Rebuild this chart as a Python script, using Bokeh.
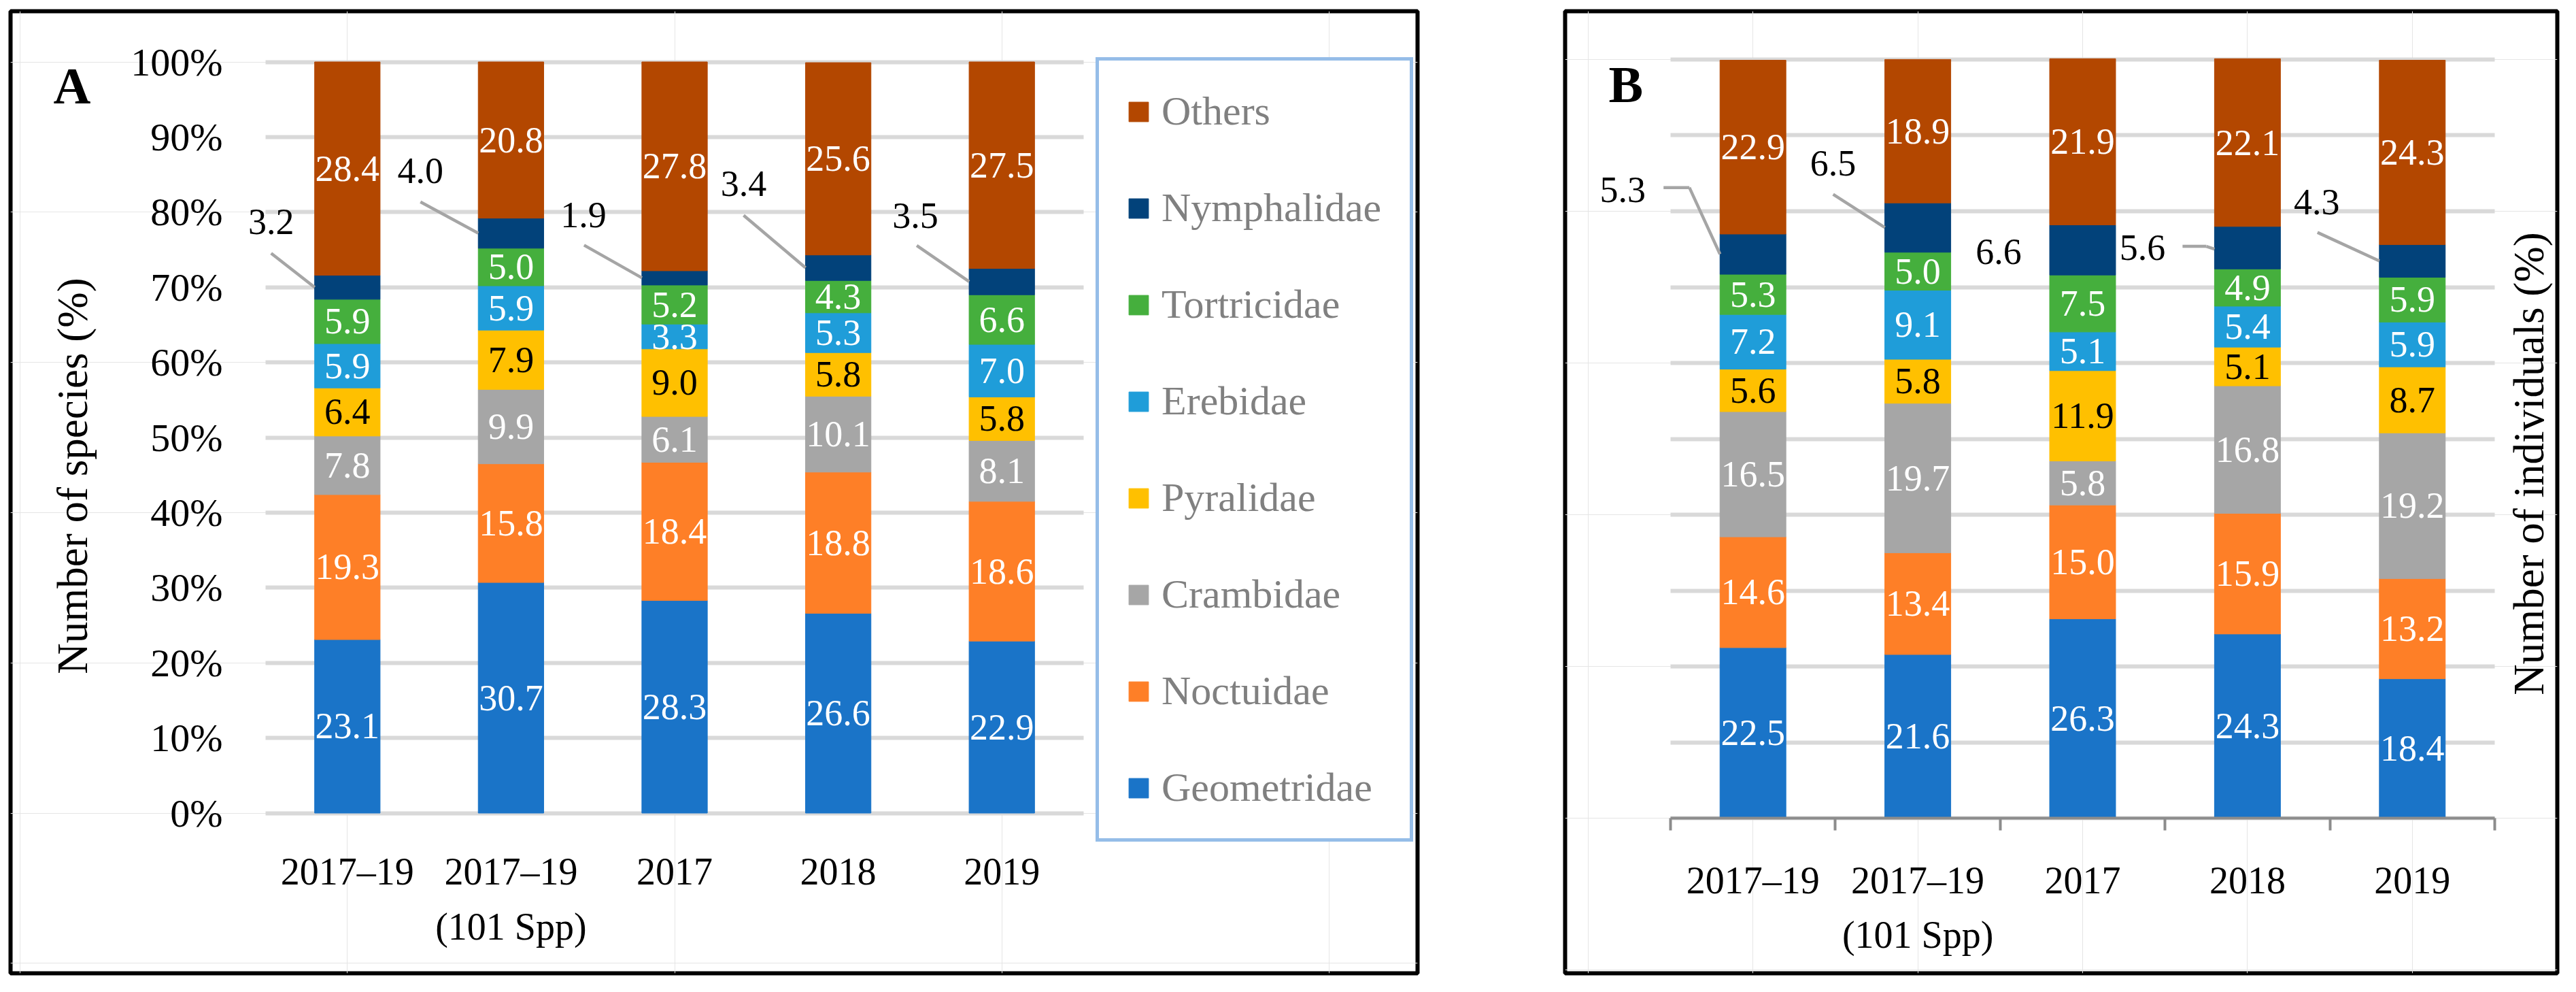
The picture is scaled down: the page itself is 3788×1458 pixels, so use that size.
import math
from bokeh.plotting import figure
from bokeh.models import (Range1d, Legend, LegendItem, Label, LabelSet, Arrow,
                          LinearAxis, FixedTicker, PrintfTickFormatter, ColumnDataSource, Grid)
from bokeh.layouts import row
from bokeh.embed import file_html
from bokeh.resources import INLINE
from bokeh.core.properties import value

# ---------------- data ----------------
periods = ["2017–19", "2017–19\n(101 Spp)", "2017", "2018", "2019"]
families = ["Geometridae", "Noctuidae", "Crambidae", "Pyralidae",
            "Erebidae", "Tortricidae", "Nymphalidae", "Others"]
y_tick_values = [0, 10, 20, 30, 40, 50, 60, 70, 80, 90, 100]

# Panel A: number of species (%)
species_geometridae = [23.1, 30.7, 28.3, 26.6, 22.9]
species_noctuidae = [19.3, 15.8, 18.4, 18.8, 18.6]
species_crambidae = [7.8, 9.9, 6.1, 10.1, 8.1]
species_pyralidae = [6.4, 7.9, 9.0, 5.8, 5.8]
species_erebidae = [5.9, 5.9, 3.3, 5.3, 7.0]
species_tortricidae = [5.9, 5.0, 5.2, 4.3, 6.6]
species_nymphalidae = [3.2, 4.0, 1.9, 3.4, 3.5]
species_others = [28.4, 20.8, 27.8, 25.6, 27.5]

# Panel B: number of individuals (%)
indiv_geometridae = [22.5, 21.6, 26.3, 24.3, 18.4]
indiv_noctuidae = [14.6, 13.4, 15.0, 15.9, 13.2]
indiv_crambidae = [16.5, 19.7, 5.8, 16.8, 19.2]
indiv_pyralidae = [5.6, 5.8, 11.9, 5.1, 8.7]
indiv_erebidae = [7.2, 9.1, 5.1, 5.4, 5.9]
indiv_tortricidae = [5.3, 5.0, 7.5, 4.9, 5.9]
indiv_nymphalidae = [5.3, 6.5, 6.6, 5.6, 4.3]
indiv_others = [22.9, 18.9, 21.9, 22.1, 24.3]

species_table = [species_geometridae, species_noctuidae, species_crambidae, species_pyralidae,
                 species_erebidae, species_tortricidae, species_nymphalidae, species_others]
indiv_table = [indiv_geometridae, indiv_noctuidae, indiv_crambidae, indiv_pyralidae,
               indiv_erebidae, indiv_tortricidae, indiv_nymphalidae, indiv_others]

# ---------------- styles ----------------
family_colors = ["#1A74C8", "#FE7F27", "#A6A6A6", "#FFC000",
                 "#1F9DD9", "#45AF3D", "#02427A", "#B34700"]
value_label_colors = ["white", "white", "white", "black", "white", "white", "black", "white"]
FONT = "Liberation Serif"
GRID = "#D9D9D9"
LEADER = "#A5A5A5"
AXIS_GRAY = "#8C8C8C"
PAGE = 8
FIG_H = 1442
OUTSIDE = "Nymphalidae"
N = len(periods)
positions = list(range(N))                      # category slots on the x scale
boundaries = [i - 0.5 for i in range(N + 1)]    # slot edges
BAR_W = 0.4

# outside (leader) label placement, pixel offsets from the bar's left edge at segment middle
A_lbl_dx = [-64, -85, -86, -91, -79]
A_lbl_dy = [-96, -92, -92, -123, -97]
A_leaders = [[(-64, -50), (0, 0)], [(-85, -46), (0, 0)], [(-85, -48), (0, 0)],
             [(-91, -77), (0, 0)], [(-77, -53), (0, 0)]]
B_lbl_dx = [-143, -76, -75, -106, -92]
B_lbl_dy = [-95, -95, 3, 0, -87]
B_leaders = [[(-83, -98), (-45, -98), (0, 0)], [(-76, -49), (0, 0)], [],
             [(-47, -2), (-12, -2), (0, 2)], [(-91, -42), (0, 0)]]

HAS_CROSS_BOUNDS = "cross_bounds" in Grid.properties()


def build_panel(table, fig_x, fig_w, box, slots, zero_y, hundred_y, lbl_dx, lbl_dy, leaders):
    bl, br, bt, bb = box          # panel frame (black box) in page px
    sl, sr = slots                # page px of the first and last slot edge
    ppc = (sr - sl) / N
    ppu = (zero_y - hundred_y) / 100.0
    x_lo = -0.5 - (sl - bl) / ppc
    x_hi = N - 0.5 + (br - sr) / ppc
    y_lo = -(bb - zero_y) / ppu
    y_hi = 100 + (hundred_y - bt) / ppu
    p = figure(width=fig_w, height=FIG_H, x_range=Range1d(x_lo, x_hi),
               y_range=Range1d(y_lo, y_hi), x_axis_location=None, y_axis_location=None,
               toolbar_location=None, output_backend="svg",
               min_border_left=bl - fig_x, min_border_right=fig_x + fig_w - br,
               min_border_top=bt - PAGE, min_border_bottom=PAGE + FIG_H - bb)
    p.outline_line_color = "black"
    p.outline_line_width = 6
    p.background_fill_color = "white"
    p.border_fill_color = "white"

    def sx(px):
        return -0.5 + (px - sl) / ppc

    def sy(py):
        return (zero_y - py) / ppu

    if HAS_CROSS_BOUNDS:
        p.add_layout(Grid(dimension=1, ticker=FixedTicker(ticks=y_tick_values),
                          cross_bounds=(boundaries[0], boundaries[-1]),
                          grid_line_color=GRID, grid_line_width=6))
    else:
        p.segment(x0=[boundaries[0]] * len(y_tick_values), x1=[boundaries[-1]] * len(y_tick_values),
                  y0=y_tick_values, y1=y_tick_values, line_color=GRID, line_width=6)

    data = {"pos": positions}
    for f, col in zip(families, table):
        data[f] = col
    src = ColumnDataSource(data)
    rends = p.vbar_stack(families, x="pos", width=BAR_W, source=src,
                         fill_color=family_colors, line_color=family_colors, line_width=1)

    ix, iy, it, ic = [], [], [], []
    ox, oy, ot = [], [], []
    x0s, y0s, x1s, y1s = [], [], [], []
    for i, pos in enumerate(positions):
        cum = 0.0
        for f, col, lc in zip(families, table, value_label_colors):
            v = col[i]
            mid = cum + v / 2
            if f == OUTSIDE:
                bx = pos - BAR_W / 2
                ox.append(bx + lbl_dx[i] / ppc)
                oy.append(mid - lbl_dy[i] / ppu)
                ot.append(f"{v:.1f}")
                pts = leaders[i]
                for (ax, ay), (bx2, by2) in zip(pts[:-1], pts[1:]):
                    x0s.append(bx + ax / ppc)
                    y0s.append(mid - ay / ppu)
                    x1s.append(bx + bx2 / ppc)
                    y1s.append(mid - by2 / ppu)
            else:
                ix.append(pos)
                iy.append(mid)
                it.append(f"{v:.1f}")
                ic.append(lc)
            cum += v

    p.text(x="x", y="y", text="t", text_color="c",
           source=ColumnDataSource(dict(x=ix, y=iy, t=it, c=ic)),
           text_font=value(FONT), text_font_size=value("54px"),
           text_align="center", text_baseline="middle")
    p.add_layout(LabelSet(x="x", y="y", text="t", source=ColumnDataSource(dict(x=ox, y=oy, t=ot)),
                          text_font=value(FONT), text_font_size=value("54px"),
                          text_color="black", text_align="center", text_baseline="middle"))
    p.add_layout(Arrow(end=None, x_start="x0", y_start="y0", x_end="x1", y_end="y1",
                       source=ColumnDataSource(dict(x0=x0s, y0=y0s, x1=x1s, y1=y1s)),
                       line_color=LEADER, line_width=4.5))
    return p, rends, sx, sy


def period_axis(standoff):
    return LinearAxis(ticker=FixedTicker(ticks=positions), fixed_location=0,
                      major_label_overrides={pos: per for pos, per in zip(positions, periods)},
                      axis_line_color=None, major_tick_line_color=None,
                      minor_tick_line_color=None, major_tick_in=0, major_tick_out=0,
                      major_label_standoff=standoff, major_label_text_font=FONT,
                      major_label_text_font_size="56px", major_label_text_color="black",
                      major_label_text_line_height=1.3)


# ---------------- panel A ----------------
A_BOX = (23, 2092, 24, 1438)
pa, rends_a, sxa, sya = build_panel(species_table, 8, 2096, A_BOX, (398, 1601), 1202.5, 98.5,
                                    A_lbl_dx, A_lbl_dy, A_leaders)
ya = LinearAxis(ticker=FixedTicker(ticks=y_tick_values), formatter=PrintfTickFormatter(format="%d%%"),
                fixed_location=boundaries[0],
                axis_line_color=None, major_tick_line_color=None, minor_tick_line_color=None,
                major_tick_in=0, major_tick_out=0, major_label_standoff=63,
                major_label_text_font=FONT, major_label_text_font_size="58px",
                major_label_text_color="black")
pa.add_layout(ya, "left")
pa.add_layout(period_axis(55), "below")

legend_items = [LegendItem(label=f, renderers=[r]) for f, r in zip(families[::-1], rends_a[::-1])]
legend = Legend(items=legend_items, location=(1619 - A_BOX[0], A_BOX[3] - 1245),
                orientation="vertical",
                label_text_font=FONT, label_text_font_size="60px", label_text_color="#808080",
                glyph_width=36, glyph_height=36, label_standoff=16, label_width=325, label_height=36,
                padding=40, spacing=73, margin=0,
                border_line_color="#2B7BD2", border_line_width=5,
                background_fill_color="white", background_fill_alpha=1.0)
pa.add_layout(legend)

pa.add_layout(Label(x=sxa(86), y=sya(133), text="A", text_font=FONT, text_font_size="76px",
                    text_font_style="bold", text_color="black", text_align="left",
                    text_baseline="alphabetic"))
pa.add_layout(Label(x=sxa(114), y=sya(707), text="Number of species (%)", angle=math.pi / 2,
                    text_font=FONT, text_font_size="63px", text_color="black",
                    text_align="center", text_baseline="alphabetic"))

# ---------------- panel B ----------------
B_BOX = (2309, 3768, 24, 1440)
pb, rends_b, sxb, syb = build_panel(indiv_table, 2104, 1676, B_BOX, (2464, 3676), 1212, 95,
                                    B_lbl_dx, B_lbl_dy, B_leaders)
bnd_axis = LinearAxis(ticker=FixedTicker(ticks=boundaries), fixed_location=0,
                      bounds=(boundaries[0], boundaries[-1]),
                      axis_line_color=AXIS_GRAY, axis_line_width=4,
                      major_tick_line_color=AXIS_GRAY, major_tick_line_width=4,
                      major_tick_in=0, major_tick_out=18, minor_tick_line_color=None,
                      major_label_text_font_size="1px", major_label_text_alpha=0,
                      major_label_standoff=0)
pb.add_layout(bnd_axis, "below")
pb.add_layout(period_axis(60), "below")

pb.add_layout(Label(x=sxb(2373), y=syb(132), text="B", text_font=FONT, text_font_size="76px",
                    text_font_style="bold", text_color="black", text_align="left",
                    text_baseline="alphabetic"))
pb.add_layout(Label(x=sxb(3726), y=syb(690), text="Number of individuals (%)", angle=math.pi / 2,
                    text_font=FONT, text_font_size="63px", text_color="black",
                    text_align="center", text_baseline="alphabetic"))

layout = row(pa, pb)
open("out.html", "w").write(file_html(layout, INLINE))
